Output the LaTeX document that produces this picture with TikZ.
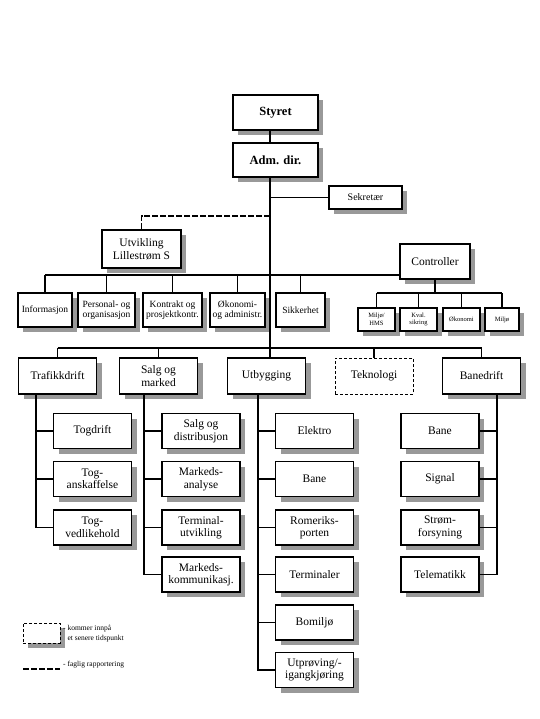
\documentclass[tikz,border=0pt]{standalone}
\usepackage{fontspec}
\setmainfont{Liberation Serif}
\usetikzlibrary{positioning,shadows}

\begin{document}
\begin{tikzpicture}[x=1pt,y=-1pt,
    every node/.style={font=\fontsize{11.5}{12.5}\selectfont},
    boxshadow/.style={drop shadow={shadow xshift=5pt,shadow yshift=-5pt,fill=black!40,opacity=1}},
    unitbox/.style={draw,fill=white,line width=1.6pt,inner sep=1pt,align=center,boxshadow,minimum width=78pt,minimum height=35pt},
    headbox/.style={unitbox,font=\fontsize{12.5}{13}\selectfont\bfseries},
    staffbox/.style={unitbox,minimum height=34pt,font=\fontsize{9.5}{10.5}\selectfont},
    ctrlsub/.style={unitbox,line width=1.4pt,minimum height=23pt,font=\fontsize{6.5}{7.5}\selectfont},
    plannedbox/.style={draw,fill=white,dash pattern=on 3pt off 2pt,line width=0.8pt,align=center},
    conn/.style={line width=1.6pt},
    report/.style={line width=1.4pt,dash pattern=on 6pt off 2pt},
    legtext/.style={font=\fontsize{7.5}{10}\selectfont,align=left,inner sep=0pt},
]
\useasboundingbox (0,0) rectangle (539,719);

% Board and director
\node[headbox,minimum width=85pt,minimum height=35pt] (styret) at (275.5,112.5) {Styret};
\node[headbox,minimum width=85pt,minimum height=34pt] (adm) at (275.5,160) {Adm. dir.};
\node[unitbox,minimum width=73pt,minimum height=23pt,font=\fontsize{10}{11}\selectfont] (sekr) at (365.5,197.5) {Sekretær};

% Staff units
\node[unitbox,minimum width=79pt,minimum height=38pt] (utv) at (141.5,249) {Utvikling\\Lillestrøm S};
\node[staffbox,minimum width=54pt] (info)  at (45,310)    {Informasjon};
\node[staffbox,minimum width=57pt] (pers)  at (106.5,310) {Personal- og\\organisasjon};
\node[staffbox,minimum width=59pt] (kontr) at (172.5,310) {Kontrakt og\\prosjektkontr.};
\node[staffbox,minimum width=55pt] (okon)  at (237.5,310) {Økonomi-\\og administr.};
\node[staffbox,minimum width=49pt] (sikk)  at (300.5,310) {Sikkerhet};

% Controller with its own staff
\node[unitbox,minimum width=70pt,minimum height=35pt] (ctrl) at (435,261.5) {Controller};
\node[ctrlsub,minimum width=37pt] (hms)    at (376.5,319.5) {Miljø/\\HMS};
\node[ctrlsub,minimum width=37pt] (kval)   at (418.5,319.5) {Kval.\\sikring};
\node[ctrlsub,minimum width=37pt] (okctrl) at (461.5,319.5) {Økonomi};
\node[ctrlsub,minimum width=34pt] (miljo)  at (502,319.5)   {Miljø};

% Line units
\node[unitbox,minimum height=36pt] (traf)  at (57.5,376)  {Trafikkdrift};
\node[unitbox,minimum height=36pt] (salg)  at (158.5,376) {Salg og\\marked};
\node[unitbox,minimum height=36pt] (utb)   at (266.5,376) {Utbygging};
\node[plannedbox,minimum width=78pt,minimum height=36pt] (tekn) at (374,376) {Teknologi};
\node[unitbox,minimum height=36pt] (baned) at (481.5,376) {Banedrift};

% Trafikkdrift
\node[unitbox] (togdrift)  at (92.5,431)   {Togdrift};
\node[unitbox] (toganskaf) at (92.5,479)   {Tog-\\anskaffelse};
\node[unitbox] (togvedl)   at (92.5,527.5) {Tog-\\vedlikehold};

% Salg og marked
\node[unitbox] (salgdist) at (201,431)   {Salg og\\distribusjon};
\node[unitbox] (markanal) at (201,479)   {Markeds-\\analyse};
\node[unitbox] (termutv)  at (201,527.5) {Terminal-\\utvikling};
\node[unitbox] (markkomm) at (201,574.5) {Markeds-\\kommunikasj.};

% Utbygging
\node[unitbox] (elektro)    at (314.5,431)   {Elektro};
\node[unitbox] (utbbane)    at (314.5,479)   {Bane};
\node[unitbox] (romporten)  at (314.5,527.5) {Romeriks-\\porten};
\node[unitbox] (terminaler) at (314.5,574.5) {Terminaler};
\node[unitbox] (bomiljo)    at (314.5,622.5) {Bomiljø};
\node[unitbox] (utprov)     at (314.5,670)   {Utprøving/-\\igangkjøring};

% Banedrift
\node[unitbox] (bbane)  at (440,431)   {Bane};
\node[unitbox] (signal) at (440,479)   {Signal};
\node[unitbox] (strom)  at (440,527.5) {Strøm-\\forsyning};
\node[unitbox] (telem)  at (440,574.5) {Telematikk};

% Trunks and bars
\coordinate (trunk) at (270,0);
\coordinate (rep) at (270,216);
\coordinate (staffbar) at (0,275);
\coordinate (ctrlbar) at (0,293);
\coordinate (mainbar) at (0,348);
\coordinate (trafT) at (36,0);
\coordinate (salgT) at (144,0);
\coordinate (utbT) at (258,0);
\coordinate (baneT) at (497,0);

\draw[conn] (styret.south -| trunk) -- (adm.north -| trunk);
\draw[conn] (adm.south -| trunk) -- (utb.north -| trunk);
\draw[conn] (sekr.west -| trunk) -- (sekr.west);
\draw[report] (rep) -| (utv.north);

\draw[conn] (info.north |- staffbar) -- (staffbar -| ctrl.west);
\foreach \s in {info,pers,kontr,okon,sikk}
  \draw[conn] (\s.north |- staffbar) -- (\s.north);

\draw[conn] (ctrl.south) -- (ctrl.south |- ctrlbar);
\draw[conn] (hms.north |- ctrlbar) -- (miljo.north |- ctrlbar);
\foreach \s in {hms,kval,okctrl,miljo}
  \draw[conn] (\s.north |- ctrlbar) -- (\s.north);

\draw[conn] (traf.north |- mainbar) -- (baned.north |- mainbar);
\foreach \s in {traf,salg,tekn,baned}
  \draw[conn] (\s.north |- mainbar) -- (\s.north);

\foreach \c in {togdrift,toganskaf,togvedl}
  \draw[conn] (traf.south -| trafT) |- (\c.west);
\foreach \c in {salgdist,markanal,termutv,markkomm}
  \draw[conn] (salg.south -| salgT) |- (\c.west);
\foreach \c in {elektro,utbbane,romporten,terminaler,bomiljo,utprov}
  \draw[conn] (utb.south -| utbT) |- (\c.west);
\foreach \c in {bbane,signal,strom,telem}
  \draw[conn] (baned.south -| baneT) |- (\c.east);

% Legend
\node[fill=black!40,minimum width=37pt,minimum height=20pt,inner sep=0pt] at (46.5,638) {};
\node[plannedbox,minimum width=37pt,minimum height=20pt,inner sep=0pt] (legbox) at (41.5,633) {};
\node[legtext,anchor=west] (legboxtxt) at (63,634) {- kommer innpå\\\phantom{- }et senere tidspunkt};
\coordinate (legA) at (23,669);
\coordinate (legB) at (60,669);
\draw[report] (legA) -- (legB);
\node[legtext,anchor=west] (legreptxt) at (63,665) {- faglig rapportering};
\end{tikzpicture}
\end{document}
